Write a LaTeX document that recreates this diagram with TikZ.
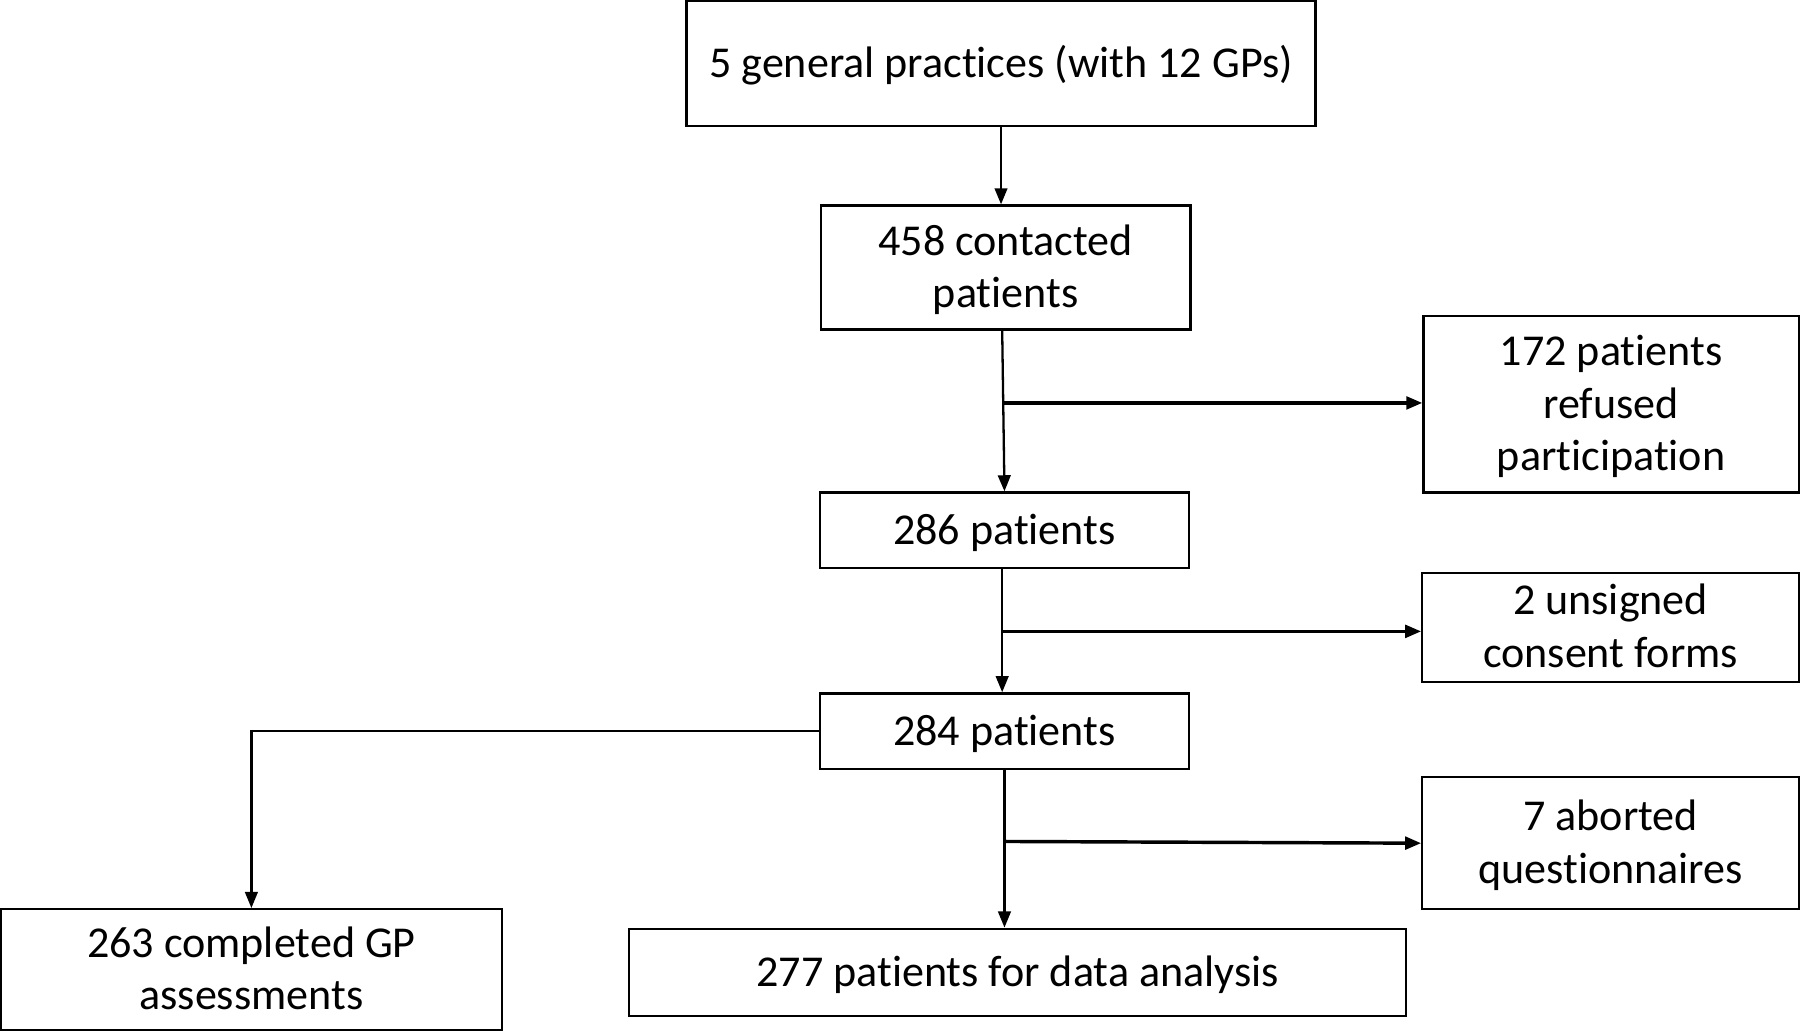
\documentclass[tikz,border=0pt]{standalone}
\usepackage{fontspec}
\setmainfont{Carlito}[Ligatures={NoCommon,NoRare},RawFeature={-liga;-dlig;-calt}]
\usetikzlibrary{arrows.meta}
\newcommand\lowtxt[1]{\raisebox{-1.5pt}[\height][\depth]{\begin{tabular}{@{}c@{}}#1\end{tabular}}}
\begin{document}
\begin{tikzpicture}[x=0.5pt,y=-0.5pt,
  box/.style={draw=black,line width=1pt,inner sep=0pt,align=center,
    font=\fontsize{19.2}{23}\selectfont},
  flow/.style={line width=1pt,-{Triangle[length=7pt,width=5.5pt]}},
  side/.style={line width=1.5pt,-{Triangle[length=7pt,width=5.5pt]}}]
\useasboundingbox (0,0) rectangle (1568,899);
\node[box,minimum width=274pt,minimum height=54.5pt] (top) at (872,55.5) {\lowtxt{5 general practices (with 12 GPs)}};
\node[box,minimum width=161pt,minimum height=54pt] (contacted) at (876,233) {\lowtxt{458 contacted\\patients}};
\node[box,minimum width=163.5pt,minimum height=77pt] (refused) at (1403.5,352) {\lowtxt{172 patients\\refused\\participation}};
\node[box,minimum width=161pt,minimum height=33pt] (p286) at (875,462) {\lowtxt{286 patients}};
\node[box,minimum width=164pt,minimum height=47.5pt] (unsigned) at (1403,546.5) {\lowtxt{2 unsigned\\consent forms}};
\node[box,minimum width=161pt,minimum height=33pt] (p284) at (875,637) {\lowtxt{284 patients}};
\node[box,minimum width=164pt,minimum height=57.5pt] (aborted) at (1403,734.5) {\lowtxt{7 aborted\\questionnaires}};
\node[box,minimum width=218pt,minimum height=52.5pt] (c263) at (219,844.5) {\lowtxt{263 completed GP\\assessments}};
\node[box,minimum width=338.5pt,minimum height=38pt] (p277) at (886.5,847) {\lowtxt{277 patients for data analysis}};
% vertical flow
\draw[flow] (top.south -| 872,0) -- (contacted.north -| 872,0);
\coordinate (s1) at (873,287);
\draw[flow] (s1) -- (p286.north);
\coordinate (s2) at (873,495);
\draw[flow] (s2) -- (p284.north -| s2);
\draw[flow] (p284.south) -- (p277.north -| p284.south);
% side branches
\coordinate (b1) at (874,351);
\draw[side] (b1) -- (b1 -| refused.west);
\coordinate (b2) at (873,550);
\draw[side] (b2) -- (b2 -| unsigned.west);
\coordinate (b3) at (875,733);
\draw[side] (b3) -- (aborted.west);
% left branch
\draw[flow] (p284.west) -| (c263.north);
\end{tikzpicture}
\end{document}
